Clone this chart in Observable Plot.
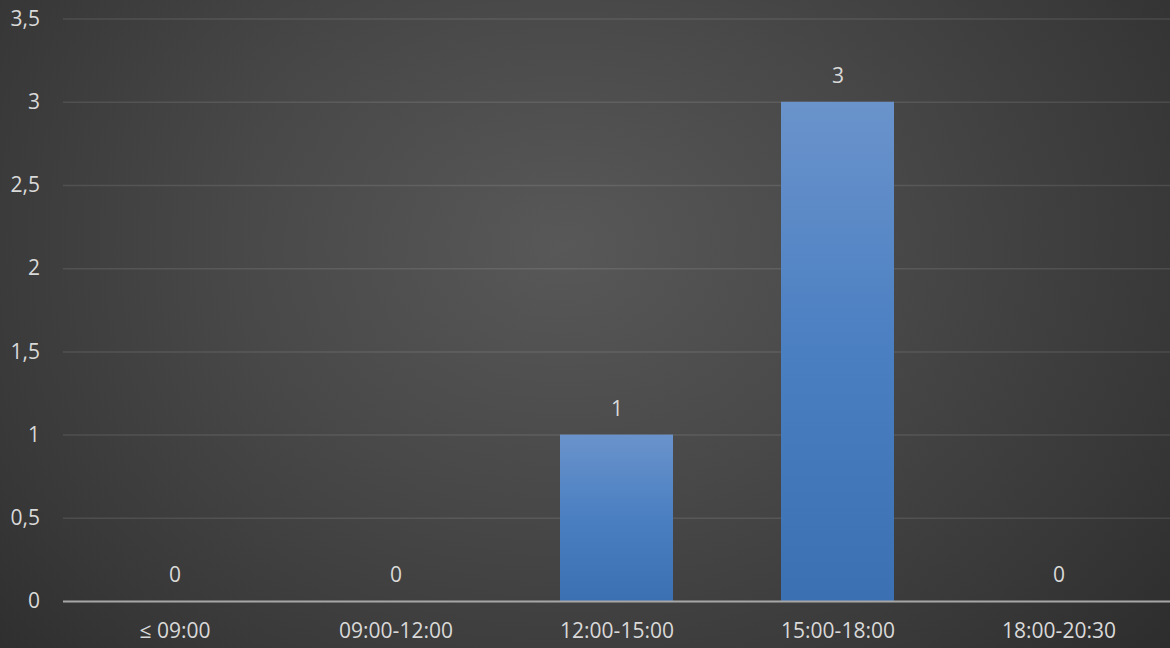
<!DOCTYPE html>
<html>
<head>
<meta charset="utf-8">
<script src="https://cdn.jsdelivr.net/npm/d3@7"></script>
<script src="https://cdn.jsdelivr.net/npm/@observablehq/plot@0.6"></script>
<style>
  html, body { margin: 0; padding: 0; }
  body { width: 1170px; height: 648px; overflow: hidden;
    background: radial-gradient(ellipse 70% 100% at 48% 38%, #585858 0%, #484848 40%, #383838 75%, #2b2b2b 100%); }
  #chart svg { display: block; background: transparent; }
</style>
</head>
<body>
<div id="chart"></div>
<script>
const categories = ["≤ 09:00", "09:00-12:00", "12:00-15:00", "15:00-18:00", "18:00-20:30"];
const values = [0, 0, 1, 3, 0];
const yTicks = [0, 0.5, 1, 1.5, 2, 2.5, 3, 3.5];

const data = categories.map((c, i) => ({category: c, value: values[i]}));
const fmt = v => String(v).replace(".", ",");

const plot = Plot.plot({
  width: 1170,
  height: 648,
  marginLeft: 63,
  marginRight: 0,
  marginTop: 18.6,
  marginBottom: 47,
  style: {fontFamily: "'Open Sans', 'Noto Sans', sans-serif", fontSize: "21px", color: "#d9d9d9", background: "transparent"},
  x: {domain: categories, paddingInner: 0.49, paddingOuter: 0.245, label: null},
  y: {domain: [0, 3.5], label: null},
  marks: [
    Plot.gridY(yTicks, {stroke: "#ffffff", strokeOpacity: 0.1, strokeWidth: 1.5}),
    Plot.barY(data, {x: "category", y: "value", fill: "url(#barGrad)", style: "filter: drop-shadow(0px 0px 3px rgba(0,0,0,0.45))"}),
    Plot.ruleY([0], {stroke: "#a6a6a6", strokeWidth: 2}),
    Plot.text(data, {x: "category", y: "value", text: d => fmt(d.value), dy: -26, fill: "#d9d9d9", fontSize: 21}),
    Plot.axisY(yTicks, {tickSize: 0, tickPadding: 23.5, tickFormat: fmt, label: null, fontSize: 21, fill: "#d9d9d9"}),
    Plot.axisX({tickSize: 0, tickPadding: 22, label: null, fontSize: 21, fill: "#d9d9d9"})
  ]
});

const svg = d3.select(plot);
const defs = svg.insert("defs", ":first-child");
const g = defs.append("linearGradient").attr("id", "barGrad")
  .attr("x1", 0).attr("y1", 0).attr("x2", 0).attr("y2", 1);
g.append("stop").attr("offset", "0%").attr("stop-color", "#6a93cb");
g.append("stop").attr("offset", "50%").attr("stop-color", "#4a7fc2");
g.append("stop").attr("offset", "100%").attr("stop-color", "#3b70b2");

document.getElementById("chart").appendChild(plot);
</script>
</body>
</html>
